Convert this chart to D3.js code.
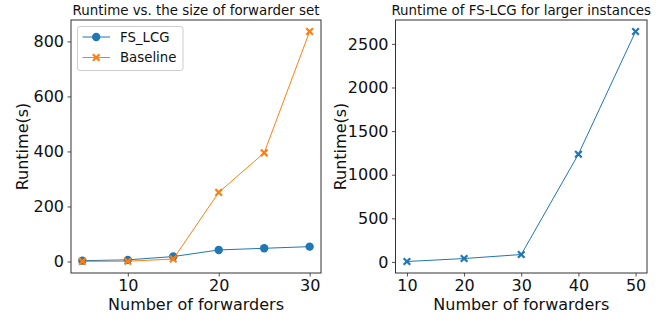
<!DOCTYPE html>
<html>
<head>
<meta charset="utf-8">
<script src="https://cdn.jsdelivr.net/npm/d3@7"></script>
<style>
  html, body { margin: 0; padding: 0; background: #fff; }
  svg { display: block; font-family: "DejaVu Sans", sans-serif; }
</style>
</head>
<body>
<svg id="chart" width="664" height="320"></svg>
<script>
// Runtime measurements
const forwardersSmall = [5, 10, 15, 20, 25, 30];
const fsLcgRuntime = [3, 6, 18, 42, 48, 54];
const baselineRuntime = [0.5, 1, 9, 251, 395, 836];

const forwardersLarge = [10, 20, 30, 40, 50];
const fsLcgLargeRuntime = [5, 39, 85, 1235, 2642];

const leftXTicks = [10, 20, 30];
const leftYTicks = [0, 200, 400, 600, 800];
const rightXTicks = [10, 20, 30, 40, 50];
const rightYTicks = [0, 500, 1000, 1500, 2000, 2500];

const BLUE = "#1f77b4", ORANGE = "#ff7f0e";

const svg = d3.select("#chart");

// matplotlib-style 5% padding around the data range
function padded(ext) {
  const m = (ext[1] - ext[0]) * 0.05;
  return [ext[0] - m, ext[1] + m];
}

function drawPanel(opts) {
  const { left, right, top, bottom } = opts.box;
  const x = d3.scaleLinear().domain(padded(opts.xExtent)).range([left, right]);
  const y = d3.scaleLinear().domain(padded(opts.yExtent)).range([bottom, top]);
  const g = svg.append("g");

  // axes
  const xAxis = d3.axisBottom(x).tickValues(opts.xTicks).tickSize(3.5).tickPadding(3.5).tickFormat(d3.format("d"));
  const yAxis = d3.axisLeft(y).tickValues(opts.yTicks).tickSize(3.5).tickPadding(3.5).tickFormat(d3.format("d"));
  const gx = g.append("g").attr("transform", `translate(0,${bottom})`).call(xAxis);
  const gy = g.append("g").attr("transform", `translate(${left},0)`).call(yAxis);
  [gx, gy].forEach(a => {
    a.select(".domain").remove();
    a.selectAll(".tick line").attr("stroke", "#222").attr("stroke-width", 0.8);
    a.selectAll(".tick text").attr("fill", "#111").attr("font-size", 16)
      .attr("font-family", "DejaVu Sans, sans-serif");
  });

  // frame
  g.append("rect").attr("x", left).attr("y", top)
    .attr("width", right - left).attr("height", bottom - top)
    .attr("fill", "none").attr("stroke", "#333").attr("stroke-width", 1);

  // title and axis labels
  g.append("text").attr("x", (left + right) / 2).attr("y", 15)
    .attr("text-anchor", "middle").attr("font-size", 13.4).attr("fill", "#111")
    .text(opts.title);
  g.append("text").attr("x", (left + right) / 2).attr("y", 310)
    .attr("text-anchor", "middle").attr("font-size", 16).attr("fill", "#111")
    .text("Number of forwarders");
  g.append("text")
    .attr("transform", `translate(${opts.yLabelX},${(top + bottom) / 2}) rotate(-90)`)
    .attr("text-anchor", "middle").attr("font-size", 16).attr("fill", "#111")
    .text("Runtime(s)");

  const line = d3.line().x(d => x(d[0])).y(d => y(d[1]));
  opts.series.forEach(s => {
    const pts = s.xs.map((v, i) => [v, s.ys[i]]);
    g.append("path").datum(pts).attr("d", line)
      .attr("fill", "none").attr("stroke", s.color).attr("stroke-width", 1);
    pts.forEach(p => drawMarker(g, s.marker, x(p[0]), y(p[1]), s.color));
  });
  return g;
}

function drawMarker(g, type, cx, cy, color) {
  if (type === "circle") {
    g.append("circle").attr("cx", cx).attr("cy", cy).attr("r", 4.2).attr("fill", color);
  } else {
    const h = 3.3;
    g.append("path")
      .attr("d", `M${cx - h},${cy - h}L${cx + h},${cy + h}M${cx - h},${cy + h}L${cx + h},${cy - h}`)
      .attr("stroke", color).attr("stroke-width", 2.2).attr("fill", "none");
  }
}

// Left panel: FS_LCG vs. baseline
const leftPanel = drawPanel({
  box: { left: 71, right: 321, top: 20, bottom: 273 },
  xExtent: d3.extent(forwardersSmall),
  yExtent: [0, d3.max(baselineRuntime)],
  xTicks: leftXTicks, yTicks: leftYTicks,
  title: "Runtime vs. the size of forwarder set",
  yLabelX: 28,
  series: [
    { xs: forwardersSmall, ys: fsLcgRuntime, color: BLUE, marker: "circle" },
    { xs: forwardersSmall, ys: baselineRuntime, color: ORANGE, marker: "x" }
  ]
});

// Legend
const legend = leftPanel.append("g");
legend.append("rect").attr("x", 77.5).attr("y", 26.5).attr("width", 105.5).attr("height", 44)
  .attr("rx", 2.5).attr("fill", "#fff").attr("fill-opacity", 0.8)
  .attr("stroke", "#ccc").attr("stroke-width", 1);
[{ name: "FS_LCG", color: BLUE, marker: "circle", y: 37 },
 { name: "Baseline", color: ORANGE, marker: "x", y: 57.5 }].forEach(e => {
  legend.append("line").attr("x1", 82.5).attr("x2", 110).attr("y1", e.y).attr("y2", e.y)
    .attr("stroke", e.color).attr("stroke-width", 1);
  drawMarker(legend, e.marker, 96.2, e.y, e.color);
  legend.append("text").attr("x", 120).attr("y", e.y + 4.8)
    .attr("font-size", 13.3).attr("fill", "#111").text(e.name);
});

// Right panel: FS-LCG on larger instances
drawPanel({
  box: { left: 395.5, right: 647, top: 20, bottom: 273 },
  xExtent: d3.extent(forwardersLarge),
  yExtent: d3.extent(fsLcgLargeRuntime),
  xTicks: rightXTicks, yTicks: rightYTicks,
  title: "Runtime of FS-LCG for larger instances",
  yLabelX: 346,
  series: [
    { xs: forwardersLarge, ys: fsLcgLargeRuntime, color: BLUE, marker: "x" }
  ]
});
</script>
</body>
</html>
